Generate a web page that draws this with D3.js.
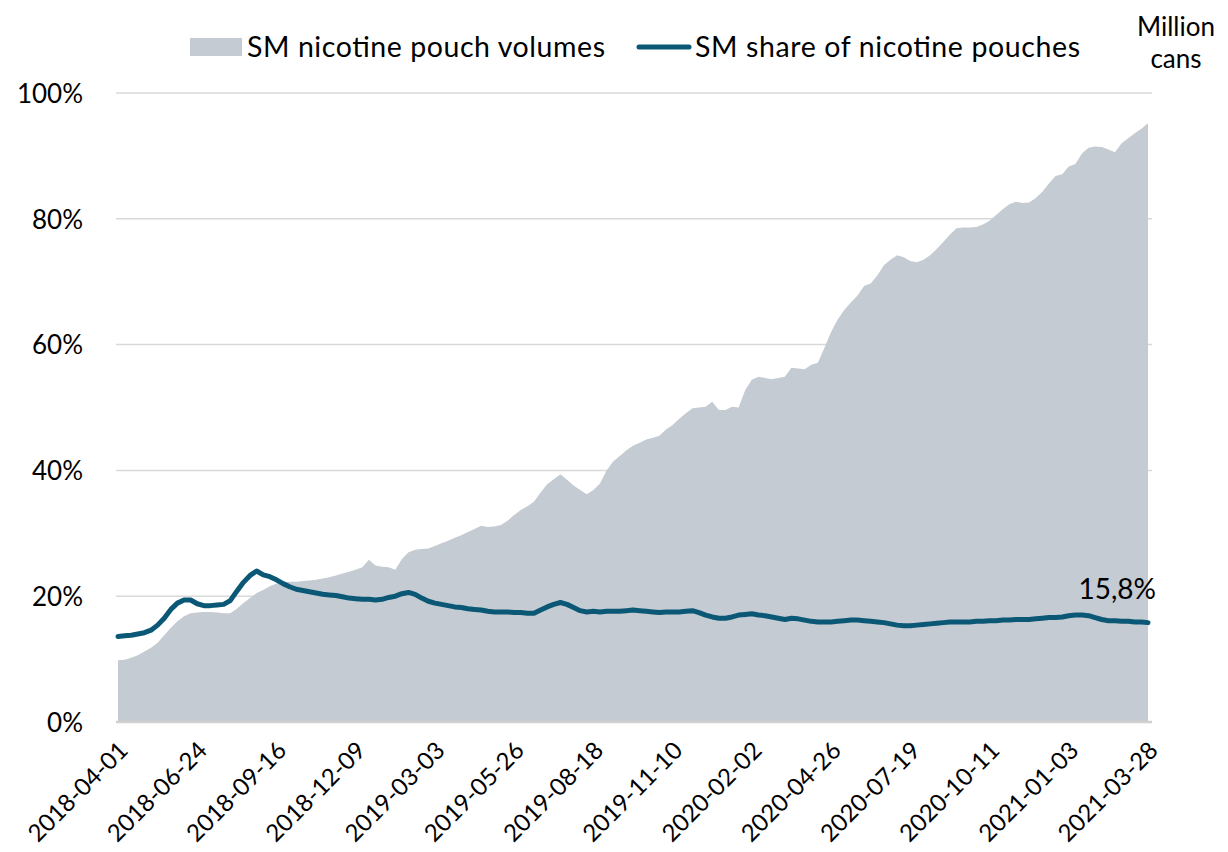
<!DOCTYPE html>
<html>
<head>
<meta charset="utf-8">
<script src="https://cdn.jsdelivr.net/npm/d3@7"></script>
<style>
  html, body { margin: 0; padding: 0; background: #ffffff; }
  svg { display: block; font-family: Lato, "Open Sans", sans-serif; }
</style>
</head>
<body>
<svg id="chart" width="1228" height="852"></svg>
<script>
// ---------- DATA ----------
const startWeek = "2018-04-01";
const weekCount = 157;
const tickLabels = ["2018-04-01","2018-06-24","2018-09-16","2018-12-09","2019-03-03","2019-05-26","2019-08-18","2019-11-10","2020-02-02","2020-04-26","2020-07-19","2020-10-11","2021-01-03","2021-03-28"];
const yTicks = [0, 0.2, 0.4, 0.6, 0.8, 1.0];

// SM nicotine pouch volumes (plotted on secondary axis, same vertical extent)
const volumes = [
  9.8, 9.9,10.2,10.6,11.2,11.8,12.6,13.8,15.0,16.0,
 16.8,17.3,17.4,17.5,17.5,17.4,17.3,17.3,18.0,18.9,
 19.7,20.5,21.0,21.6,22.0,22.2,22.3,22.3,22.4,22.5,
 22.6,22.8,23.0,23.3,23.6,23.9,24.2,24.6,25.8,24.9,
 24.7,24.6,24.2,25.9,27.0,27.4,27.5,27.6,28.0,28.4,
 28.8,29.3,29.7,30.2,30.7,31.2,31.0,31.1,31.3,32.0,
 32.9,33.7,34.3,35.0,36.5,37.8,38.6,39.4,38.5,37.6,
 36.9,36.2,36.9,37.9,40.0,41.4,42.3,43.2,43.9,44.4,
 44.9,45.2,45.5,46.5,47.2,48.2,49.1,49.9,50.0,50.1,
 50.9,49.6,49.6,50.1,50.0,52.8,54.4,54.9,54.7,54.5,
 54.7,54.9,56.3,56.2,56.1,56.8,57.1,59.5,62.0,64.0,
 65.5,66.7,67.8,69.3,69.7,71.0,72.6,73.5,74.2,73.9,
 73.3,73.1,73.5,74.2,75.2,76.3,77.5,78.5,78.6,78.6,
 78.7,79.1,79.7,80.6,81.5,82.3,82.7,82.5,82.6,83.3,
 84.3,85.6,86.8,87.1,88.3,88.7,90.4,91.3,91.5,91.4,
 91.0,90.6,92.0,92.8,93.6,94.3,95.2
];

// SM share of nicotine pouches (%)
const share = [
 13.6,13.7,13.8,14.0,14.2,14.6,15.4,16.5,17.9,18.9,
 19.4,19.4,18.8,18.5,18.5,18.6,18.7,19.3,20.8,22.2,
 23.3,24.0,23.4,23.1,22.6,22.0,21.5,21.1,20.9,20.7,
 20.5,20.3,20.2,20.1,19.9,19.7,19.6,19.5,19.5,19.4,
 19.5,19.8,20.0,20.4,20.6,20.3,19.7,19.2,18.9,18.7,
 18.5,18.3,18.2,18.0,17.9,17.8,17.6,17.5,17.5,17.5,
 17.4,17.4,17.3,17.3,17.8,18.3,18.7,19.0,18.7,18.2,
 17.7,17.5,17.6,17.5,17.6,17.6,17.6,17.7,17.8,17.7,
 17.6,17.5,17.4,17.5,17.5,17.5,17.6,17.7,17.4,17.0,
 16.7,16.5,16.5,16.7,17.0,17.1,17.2,17.0,16.9,16.7,
 16.5,16.3,16.5,16.4,16.2,16.0,15.9,15.9,15.9,16.0,
 16.1,16.2,16.2,16.1,16.0,15.9,15.8,15.6,15.4,15.3,
 15.3,15.4,15.5,15.6,15.7,15.8,15.9,15.9,15.9,15.9,
 16.0,16.0,16.1,16.1,16.2,16.2,16.3,16.3,16.3,16.4,
 16.5,16.6,16.6,16.7,16.9,17.0,17.0,16.9,16.6,16.3,
 16.1,16.1,16.0,16.0,15.9,15.9,15.8
];

const legendLabels = ["SM nicotine pouch volumes", "SM share of nicotine pouches"];
const rightAxisTitle = ["Million", "cans"];
const endLabel = "15,8%";

// ---------- STYLE ----------
const areaColor = "#c4cbd2";
const lineColor = "#0b5876";
const gridColor = "#d9d9d9";

// ---------- SCALES ----------
const parse = d3.timeParse("%Y-%m-%d");
const dates = d3.timeWeek.range(parse(startWeek), d3.timeDay.offset(parse(startWeek), 7 * weekCount - 1)).slice(0, weekCount);
const rows = dates.map((d, i) => ({ date: d, vol: volumes[i], share: share[i] / 100 }));

const plotL = 118, plotR = 1148, plotT = 93, plotB = 722;
const x = d3.scaleTime().domain([dates[0], dates[dates.length - 1]]).range([plotL, plotR]);
const y = d3.scaleLinear().domain([0, 1]).range([plotB, plotT]);
const y2 = d3.scaleLinear().domain([0, 100]).range([plotB, plotT]);

const svg = d3.select("#chart");

// gridlines
svg.append("g")
  .selectAll("line")
  .data(yTicks.filter(t => t > 0))
  .join("line")
  .attr("x1", plotL - 2).attr("x2", plotR + 4)
  .attr("y1", d => y(d)).attr("y2", d => y(d))
  .attr("stroke", gridColor).attr("stroke-width", 1.5);

// area
svg.append("path")
  .datum(rows)
  .attr("fill", areaColor)
  .attr("d", d3.area().x(d => x(d.date)).y0(y2(0)).y1(d => y2(d.vol)));

// baseline axis
svg.append("line")
  .attr("x1", plotL - 2).attr("x2", plotR + 4)
  .attr("y1", y(0)).attr("y2", y(0))
  .attr("stroke", "#d0d0d0").attr("stroke-width", 2.5);

// share line
svg.append("path")
  .datum(rows)
  .attr("fill", "none")
  .attr("stroke", lineColor)
  .attr("stroke-width", 5)
  .attr("stroke-linejoin", "round")
  .attr("stroke-linecap", "round")
  .attr("d", d3.line().x(d => x(d.date)).y(d => y(d.share)));

// left axis labels
const yAxis = d3.axisLeft(y).tickValues(yTicks).tickFormat(d3.format(".0%")).tickSize(0).tickPadding(0);
const gy = svg.append("g").attr("transform", `translate(${plotL - 35},0)`).call(yAxis);
gy.select(".domain").remove();
gy.selectAll("text").attr("font-size", 26).attr("fill", "#000").attr("font-family", "Lato, sans-serif").attr("dy", "0.36em");

// x axis labels
const xAxis = d3.axisBottom(x).tickValues(tickLabels.map(parse)).tickFormat(d3.timeFormat("%Y-%m-%d")).tickSize(0).tickPadding(0);
const gx = svg.append("g").attr("transform", `translate(0,${plotB})`).call(xAxis);
gx.select(".domain").remove();
gx.selectAll("text")
  .attr("font-size", 24).attr("fill", "#000").attr("font-family", "Lato, sans-serif")
  .attr("text-anchor", "end")
  .attr("y", 0).attr("dy", "0.35em")
  .attr("transform", "translate(5,24) rotate(-45)");

// end label
const last = rows[rows.length - 1];
svg.append("text")
  .attr("x", x(last.date) + 8).attr("y", y(last.share) - 24)
  .attr("text-anchor", "end")
  .attr("font-size", 28).attr("fill", "#000")
  .text(endLabel);

// legend
const lg = svg.append("g");
lg.append("rect").attr("x", 190).attr("y", 38).attr("width", 52).attr("height", 18).attr("fill", areaColor);
lg.append("text").attr("x", 247).attr("y", 57).attr("font-size", 28.5).attr("fill", "#000")
  .attr("textLength", 358).attr("lengthAdjust", "spacing").text(legendLabels[0]);
lg.append("line").attr("x1", 639).attr("x2", 689).attr("y1", 47).attr("y2", 47)
  .attr("stroke", lineColor).attr("stroke-width", 5).attr("stroke-linecap", "round");
lg.append("text").attr("x", 695).attr("y", 57).attr("font-size", 28.5).attr("fill", "#000")
  .attr("textLength", 385).attr("lengthAdjust", "spacing").text(legendLabels[1]);

// right axis title
const rt = svg.append("text").attr("text-anchor", "middle").attr("font-size", 26).attr("fill", "#000");
rt.selectAll("tspan").data(rightAxisTitle).join("tspan")
  .attr("x", 1176).attr("y", (d, i) => 36 + i * 32).text(d => d);
</script>
</body>
</html>
